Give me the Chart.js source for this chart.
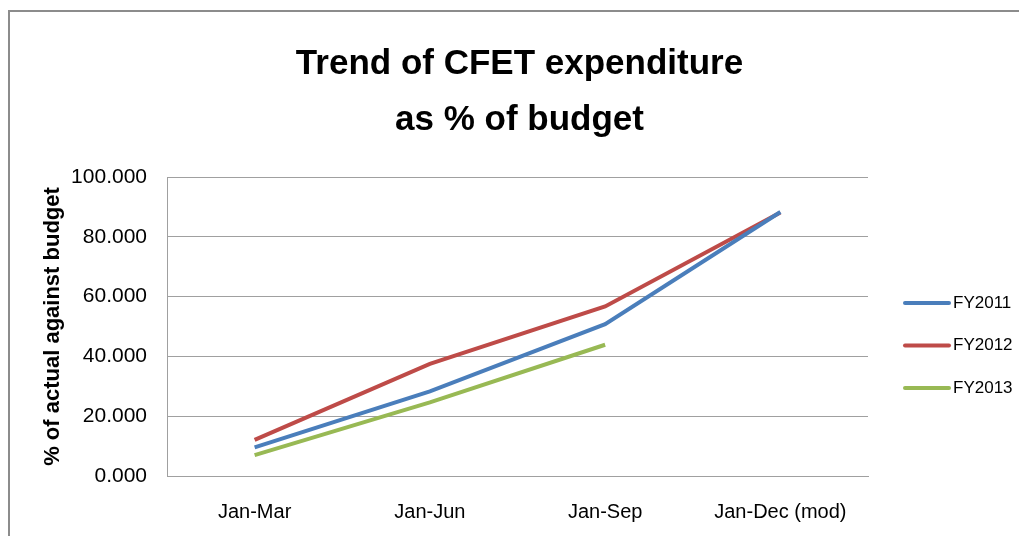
<!DOCTYPE html>
<html>
<head>
<meta charset="utf-8">
<script src="https://cdn.jsdelivr.net/npm/chart.js@4"></script>
<style>
  html, body { margin: 0; padding: 0; background: #fff; }
  #wrap { width: 1019px; height: 536px; position: relative; }
</style>
</head>
<body>
<div id="wrap"><canvas id="cfetChart"></canvas></div>
<script>
const periods = ['Jan-Mar', 'Jan-Jun', 'Jan-Sep', 'Jan-Dec (mod)'];
const fy2011 = [9.6, 28.3, 50.8, 88.3];
const fy2012 = [12.1, 37.5, 56.7, 88.1];
const fy2013 = [7.0, 24.6, 43.9, null];
const seriesNames = ['FY2011', 'FY2012', 'FY2013'];
const yTicks = [0, 20, 40, 60, 80, 100];

const colors = ['#4a7ebb', '#be4b48', '#98b954'];
const sans = "'Liberation Sans', Arial, sans-serif";

// outer grey frame of the chart object
const framePlugin = {
  id: 'frame',
  beforeDraw(chart) {
    const c = chart.ctx;
    c.save();
    c.fillStyle = '#fff';
    c.fillRect(0, 0, chart.width, chart.height);
    c.strokeStyle = '#8c8c8c';
    c.lineWidth = 2;
    c.strokeRect(9, 11, chart.width + 20, chart.height + 20);
    c.restore();
  }
};

// legend to the right of the plot, line samples like Excel
const sideLegend = {
  id: 'sideLegend',
  afterDraw(chart) {
    const c = chart.ctx;
    const area = chart.chartArea;
    const x0 = area.right + 35;
    const yMid = (area.top + area.bottom) / 2 + 19;
    const gap = 42.5;
    c.save();
    c.font = '17px ' + sans;
    c.textBaseline = 'middle';
    chart.data.datasets.forEach((ds, i) => {
      const y = yMid + (i - 1) * gap;
      c.strokeStyle = ds.borderColor;
      c.lineWidth = 4;
      c.lineCap = 'round';
      c.beginPath();
      c.moveTo(x0 + 2, y);
      c.lineTo(x0 + 46, y);
      c.stroke();
      c.fillStyle = '#000';
      c.fillText(ds.label, x0 + 50, y);
    });
    c.restore();
  }
};

const ctx = document.getElementById('cfetChart').getContext('2d');

const cfetChart = new Chart(ctx, {
  type: 'line',
  data: {
    labels: periods,
    datasets: [fy2011, fy2012, fy2013].map((d, i) => ({
      label: seriesNames[i],
      data: d,
      borderColor: colors[i],
      backgroundColor: colors[i],
      borderWidth: 4,
      pointRadius: 0,
      tension: 0,
      fill: false
    }))
  },
  options: {
    responsive: true,
    maintainAspectRatio: false,
    animation: false,
    layout: { padding: { left: 20, right: 0, top: 0, bottom: 0 } },
    plugins: {
      title: {
        display: true,
        text: ['Trend of CFET expenditure', 'as % of budget'],
        color: '#000',
        font: { family: sans, size: 35, weight: 'bold', lineHeight: 1.6 },
        padding: { top: 36, bottom: 29 }
      },
      legend: { display: false },
      tooltip: { enabled: false }
    },
    scales: {
      x: {
        offset: true,
        grid: { display: false, offset: true },
        border: { display: true, color: '#a0a0a0', width: 1 },
        ticks: { color: '#000', font: { family: sans, size: 20 }, padding: 16, maxRotation: 0 },
        afterFit: axis => { axis.height = 60; }
      },
      y: {
        min: 0,
        max: 100,
        afterBuildTicks: axis => { axis.ticks = yTicks.map(v => ({ value: v })); },
        grid: { color: '#a0a0a0', lineWidth: 1, drawTicks: false },
        border: { display: true, color: '#a0a0a0', width: 1 },
        ticks: {
          color: '#000',
          font: { family: sans, size: 21 },
          padding: 20,
          callback: v => v.toFixed(3)
        },
        title: {
          display: true,
          text: '% of actual against budget',
          color: '#000',
          font: { family: sans, size: 22, weight: 'bold' },
          padding: { top: 20, bottom: 4 }
        },
        afterFit: axis => { axis.width = 147; }
      },
      // empty axis that only keeps room for the legend on the right
      legendSpace: {
        type: 'linear',
        position: 'right',
        grid: { display: false },
        border: { display: false },
        ticks: { display: false },
        afterFit: axis => { axis.width = 151; }
      }
    }
  },
  plugins: [framePlugin, sideLegend]
});
</script>
</body>
</html>
